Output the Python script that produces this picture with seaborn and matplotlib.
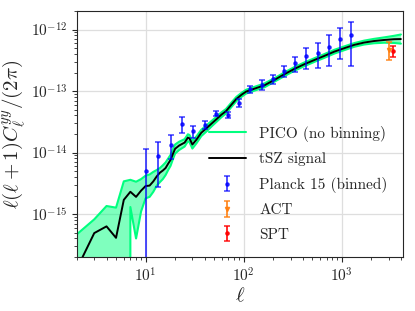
import numpy as np
import pandas as pd
import matplotlib
matplotlib.use("Agg")
import matplotlib.pyplot as plt
import seaborn as sns

# tSZ power spectrum
ell = [2, 3, 4, 5, 6, 7, 8, 9, 10, 11, 12, 13, 14, 15,
       16, 17, 18, 19, 20, 22, 25, 27, 28, 30, 33, 37, 42, 47, 53, 59, 66, 75, 84, 95,
       106, 120, 135, 163, 206, 262, 330, 418, 527, 665, 842, 1060, 1340, 1690, 2130,
       2700, 3400, 4000]
tsz = [1.3e-16, 4.9e-16, 6.3e-16, 4.1e-16, 1.7e-15, 2.3e-15, 1.9e-15, 2.4e-15, 2.85e-15,
       2.9e-15, 3.4e-15, 4.1e-15, 4.7e-15, 5.1e-15,
       5.6e-15, 6.6e-15, 7.6e-15, 9.5e-15, 1.15e-14, 1.3e-14, 1.45e-14, 1.75e-14, 1.7e-14,
       1.35e-14, 1.62e-14, 2.1e-14, 2.5e-14, 2.95e-14, 3.5e-14, 4.1e-14, 4.7e-14, 6.0e-14,
       7.4e-14, 8.7e-14, 9.8e-14, 1.05e-13, 1.12e-13, 1.24e-13, 1.52e-13, 1.89e-13, 2.3e-13,
       2.74e-13, 3.2e-13, 3.73e-13, 4.38e-13, 4.97e-13, 5.63e-13, 6.14e-13, 6.5e-13,
       6.76e-13, 6.96e-13, 7.0e-13]
pico_up = [4.7e-16, 8.2e-16, 1.35e-15, 1.27e-15, 3.4e-15, 3.6e-15, 3.35e-15, 3.7e-15, 4.2e-15,
           4.4e-15, 4.85e-15, 5.2e-15, 5.6e-15, 6.2e-15,
           6.9e-15, 8.0e-15, 9.2e-15, 1.13e-14, 1.35e-14, 1.5e-14, 1.65e-14, 1.98e-14, 1.93e-14,
           1.55e-14, 1.83e-14, 2.35e-14, 2.78e-14, 3.25e-14, 3.83e-14, 4.47e-14, 5.1e-14, 6.5e-14,
           8.0e-14, 9.35e-14, 1.05e-13, 1.125e-13, 1.2e-13, 1.33e-13, 1.62e-13, 2.02e-13, 2.46e-13,
           2.93e-13, 3.42e-13, 3.99e-13, 4.69e-13, 5.32e-13, 6.02e-13, 6.6e-13, 7.05e-13,
           7.45e-13, 7.9e-13, 8.3e-13]
pico_lo = [-1.0e-15, -1.0e-15, -1.0e-15, -1.0e-15, -1.0e-15, 1.3e-15, 4.0e-16, 1.1e-15, 1.8e-15,
           1.9e-15, 2.3e-15, 2.9e-15, 3.3e-15, 3.7e-15,
           4.3e-15, 5.2e-15, 6.1e-15, 7.8e-15, 9.6e-15, 1.1e-14, 1.25e-14, 1.52e-14, 1.48e-14,
           1.16e-14, 1.41e-14, 1.85e-14, 2.22e-14, 2.65e-14, 3.17e-14, 3.73e-14, 4.3e-14, 5.5e-14,
           6.8e-14, 8.05e-14, 9.1e-14, 9.75e-14, 1.04e-13, 1.15e-13, 1.42e-13, 1.76e-13, 2.14e-13,
           2.55e-13, 2.98e-13, 3.47e-13, 4.07e-13, 4.62e-13, 5.24e-13, 5.7e-13, 5.98e-13,
           6.1e-13, 6.05e-13, 5.9e-13]

# Planck 2015 binned
ell_planck = [10, 13.5, 18, 23.5, 30.5, 40, 52.5, 68.5, 89.5, 117, 152.5, 198, 257.5,
              335.5, 436.5, 567.5, 738, 959.5, 1247.5]
cl_planck = [5.1e-15, 8.8e-15, 1.35e-14, 2.93e-14, 2.2e-14, 2.85e-14, 4.3e-14, 4.1e-14,
             6.5e-14, 1.08e-13, 1.26e-13, 1.54e-13, 2.15e-13, 2.84e-13, 3.65e-13, 4.23e-13,
             5.28e-13, 7.0e-13, 8.0e-13]
err_planck = [6.1e-15, 6.0e-15, 5.6e-15, 8.5e-15, 4.5e-15, 4.5e-15, 4.4e-15, 5.0e-15,
              9.0e-15, 1.4e-14, 2.3e-14, 2.6e-14, 4.4e-14, 7.7e-14, 1.33e-13, 1.9e-13,
              2.75e-13, 3.7e-13, 5.4e-13]

ell_act, cl_act, err_act = [3000], [4.68e-13], [1.5e-13]
ell_spt, cl_spt, err_spt = [3300], [4.47e-13], [9e-14]

sns.set_style("ticks", {"axes.grid": True, "grid.color": ".87"})
plt.rcParams.update({
    "font.family": "serif",
    "font.serif": ["cmr10"],
    "mathtext.fontset": "cm",
    "axes.formatter.use_mathtext": True,
    "axes.unicode_minus": False,
    "xtick.major.size": 3.5, "ytick.major.size": 3.5,
    "xtick.minor.size": 2, "ytick.minor.size": 2,
    "xtick.labelsize": 11, "ytick.labelsize": 11,
})

df = pd.DataFrame({"ell": ell, "tsz": tsz, "up": pico_up, "lo": pico_lo})

fig = plt.figure(figsize=(4.15, 3.11), dpi=100)
ax = fig.add_axes([0.1855, 0.1736, 0.7855, 0.791])

green = "springgreen"
ax.fill_between(df["ell"], df["lo"], df["up"], color=green, alpha=0.5, lw=0)
sns.lineplot(data=df, x="ell", y="up", color=green, lw=1.5, estimator=None, sort=False,
             label="PICO (no binning)", ax=ax)
sns.lineplot(data=df, x="ell", y="lo", color=green, lw=1.5, estimator=None, sort=False, ax=ax)
sns.lineplot(data=df, x="ell", y="tsz", color="k", lw=1.4, estimator=None, sort=False,
             label="tSZ signal", ax=ax)

ax.errorbar(ell_planck, cl_planck, yerr=err_planck, fmt="o", ms=2.3, color="b", alpha=0.75,
            elinewidth=1.3, capsize=2.5, capthick=1.1, label="Planck 15 (binned)")
ax.errorbar(ell_act, cl_act, yerr=err_act, fmt="v", ms=3, color="C1", alpha=0.9,
            elinewidth=1.3, capsize=2.5, capthick=1.1, label="ACT")
ax.errorbar(ell_spt, cl_spt, yerr=err_spt, fmt="o", ms=2.3, color="r", alpha=0.9,
            elinewidth=1.3, capsize=2.5, capthick=1.1, label="SPT")

ax.set_xscale("log")
ax.set_yscale("log")
ax.set_xlim(2, 4200)
ax.set_ylim(2e-16, 2e-12)
ax.grid(True, which="major", color=".87", lw=0.9)
ax.set_xlabel(r"$\ell$", fontsize=15, labelpad=1)
ax.set_ylabel(r"$\ell(\ell+1)C_\ell^{yy}/(2\pi)$", fontsize=15, labelpad=2)

ax.legend(loc="lower right", frameon=False, fontsize=11, handlelength=2.4,
          handletextpad=0.9, labelspacing=0.7, borderaxespad=0.6)

fig.savefig("out.png", dpi=100)
